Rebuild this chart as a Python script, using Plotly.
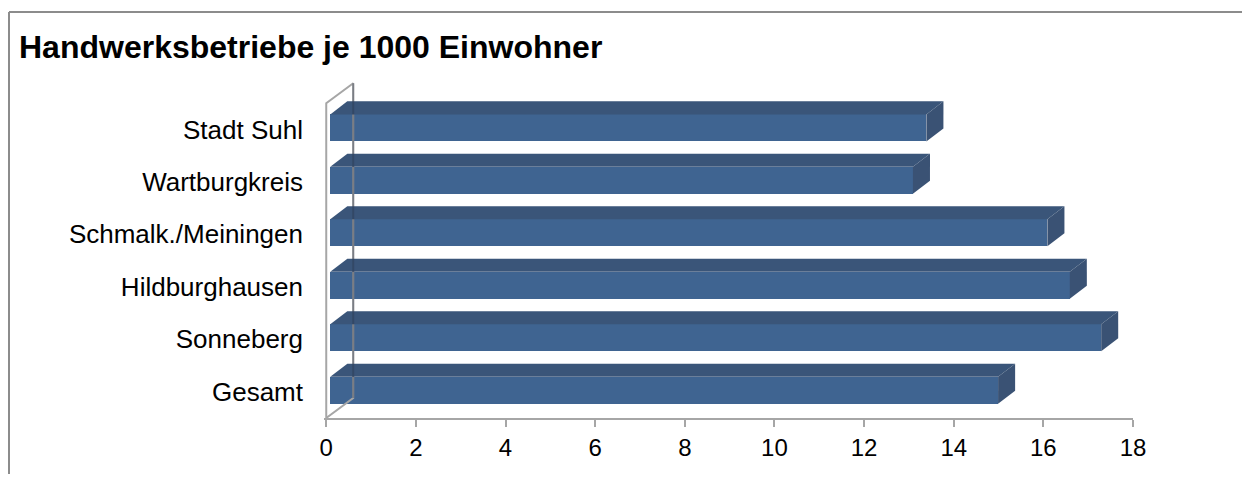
import plotly.graph_objects as go

# ---- data ----
categories = ["Gesamt", "Sonneberg", "Hildburghausen", "Schmalk./Meiningen", "Wartburgkreis", "Stadt Suhl"]
values = [14.9, 17.2, 16.5, 16.0, 13.0, 13.3]
x_ticks = [0, 2, 4, 6, 8, 10, 12, 14, 16, 18]
title_text = "Handwerksbetriebe je 1000 Einwohner"

# ---- styling / 3D geometry (data units) ----
FRONT = "#3F6491"
TOP = "#3A5579"
SIDE = "#3A5274"
WALL = "#A6A6A6"
xs = 0.09      # front face offset from wall
h = 0.515      # front face height (category units)
ddx = 0.38     # bar depth, x
ddy = 0.248    # bar depth, y
wdx = 0.602    # wall depth, x
wdy = 0.381    # wall depth, y
cshift = 0.03

idx = list(range(len(categories)))
n = len(categories)
fig = go.Figure()

# back wall
fig.add_trace(go.Scatter(
    x=[0, 0, wdx, wdx, 0],
    y=[-0.5, n - 0.5, n - 0.5 + wdy, -0.5 + wdy, -0.5],
    mode="lines", line=dict(color=WALL, width=2), hoverinfo="skip", showlegend=False))

# front faces
fig.add_trace(go.Bar(
    x=values, y=[i + cshift for i in idx], base=xs, width=h, orientation="h",
    marker=dict(color=FRONT, line=dict(width=0)), showlegend=False))

# top + side faces
for i, v in zip(idx, values):
    c = i + cshift
    top_y = c + h / 2
    bot_y = c - h / 2
    fig.add_trace(go.Scatter(
        x=[xs, xs + ddx, xs + v + ddx, xs + v, xs],
        y=[top_y, top_y + ddy, top_y + ddy, top_y, top_y],
        fill="toself", fillcolor=TOP, mode="lines", line=dict(width=0, color=TOP),
        hoverinfo="skip", showlegend=False))
    fig.add_trace(go.Scatter(
        x=[xs + v, xs + v + ddx, xs + v + ddx, xs + v, xs + v],
        y=[top_y, top_y + ddy, bot_y + ddy, bot_y, top_y],
        fill="toself", fillcolor=SIDE, mode="lines", line=dict(width=0, color=SIDE),
        hoverinfo="skip", showlegend=False))

# wall back edge faintly visible through the bars
fig.add_trace(go.Scatter(
    x=[wdx, wdx], y=[-0.5 + wdy, n - 0.5 + wdy],
    mode="lines", line=dict(color="rgba(40,50,70,0.35)", width=2),
    hoverinfo="skip", showlegend=False))

# page body has an 8px margin -> figure is 1234x466 placed at (8,8)
W, H = 1234, 466
L, R, T, B = 316, 109, 69, 56
pw = W - L - R
ph = H - T - B

fx0 = (1 - L) / pw
fy0 = -0.3
fy1 = (H - B - 4) / ph
fx1 = (W - L) / pw + 0.01

fig.update_layout(
    width=W, height=H,
    margin=dict(l=L, r=R, t=T, b=B, pad=0, autoexpand=False),
    paper_bgcolor="white", plot_bgcolor="white",
    font=dict(family="Liberation Sans, Arial, sans-serif", color="black"),
    title=dict(text="<b>" + title_text + "</b>", font=dict(size=32, color="black"),
               xref="container", yref="container", x=11 / W, xanchor="left",
               y=1 - 39 / H, yanchor="middle", automargin=False),
    bargap=0,
    xaxis=dict(range=[-0.05, 18], tickvals=x_ticks, ticktext=[str(t) for t in x_ticks],
               showgrid=False, zeroline=False, showline=True, linecolor=WALL, linewidth=2,
               ticks="outside", ticklen=7, tickwidth=2, tickcolor=WALL, automargin=False,
               tickfont=dict(size=24, color="black")),
    yaxis=dict(range=[-0.5, 6.0], tickvals=idx, ticktext=categories,
               showgrid=False, zeroline=False, showline=False, ticks="", automargin=False,
               ticklabelstandoff=20, tickfont=dict(size=26, color="black")),
    shapes=[
        dict(type="line", xref="paper", yref="paper", x0=fx0, x1=fx0, y0=fy0, y1=fy1,
             line=dict(color="#8C8C8C", width=2), layer="above"),
        dict(type="line", xref="paper", yref="paper", x0=fx0, x1=fx1, y0=fy1, y1=fy1,
             line=dict(color="#8C8C8C", width=2), layer="above"),
    ],
)

fig.write_html("out.html")
